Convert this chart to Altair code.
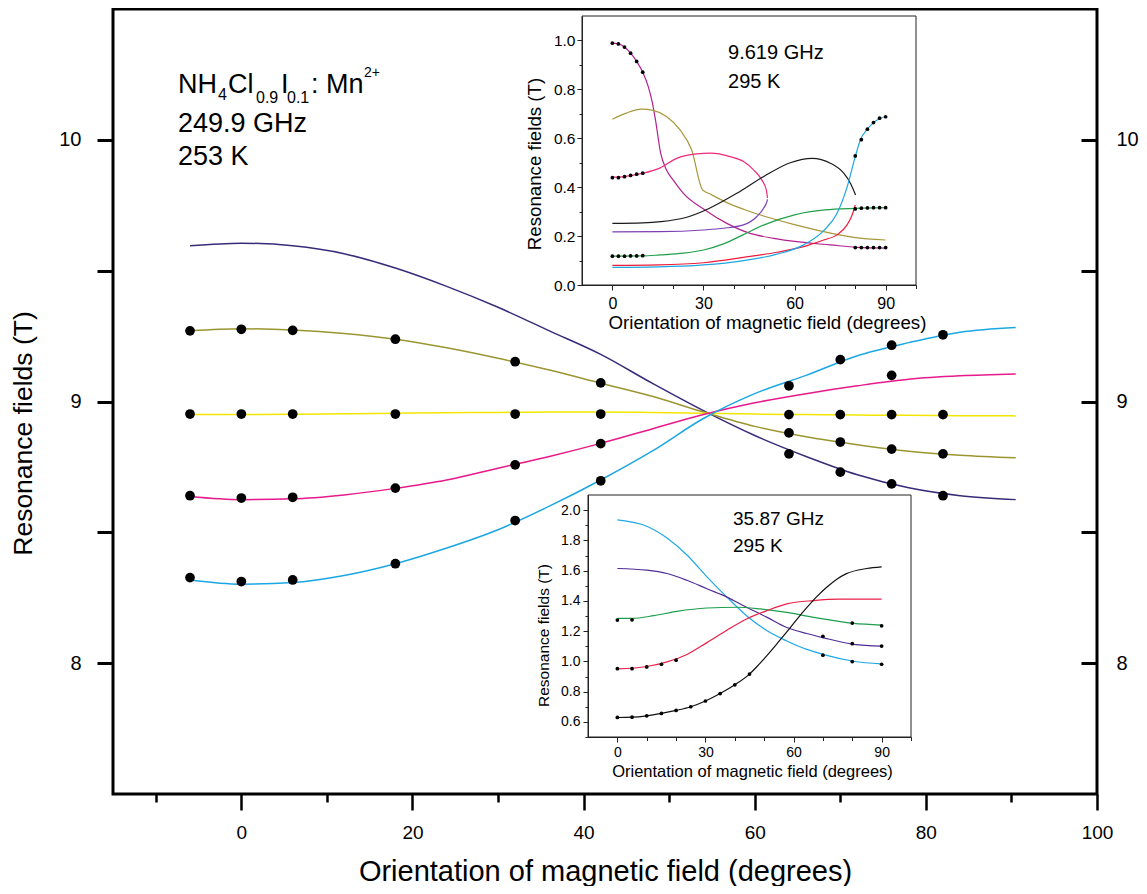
import altair as alt
import pandas as pd

FONT = "Liberation Sans"

# ---------------- main panel: 249.9 GHz, 253 K ----------------
MAIN_ANGLE = [-6, 0, 6, 12, 18, 24, 30, 36, 42, 48, 54, 60, 66, 72, 78, 84, 90.5]
MAIN_PURPLE = [9.595, 9.605, 9.595, 9.565, 9.51, 9.44, 9.36, 9.27, 9.18, 9.07, 8.965, 8.87, 8.79, 8.72, 8.67, 8.64, 8.625]
MAIN_OLIVE = [9.27, 9.278, 9.273, 9.26, 9.238, 9.205, 9.165, 9.12, 9.07, 9.02, 8.96, 8.905, 8.865, 8.835, 8.81, 8.795, 8.785]
MAIN_YELLOW = [8.95, 8.95, 8.951, 8.953, 8.955, 8.957, 8.958, 8.96, 8.96, 8.958, 8.955, 8.952, 8.95, 8.948, 8.947, 8.946, 8.945]
MAIN_MAGENTA = [8.637, 8.625, 8.628, 8.643, 8.668, 8.70, 8.745, 8.79, 8.84, 8.895, 8.95, 8.995, 9.03, 9.06, 9.085, 9.098, 9.105]
MAIN_CYAN = [8.318, 8.302, 8.308, 8.335, 8.38, 8.44, 8.51, 8.60, 8.70, 8.81, 8.935, 9.03, 9.10, 9.175, 9.225, 9.265, 9.283]

PT_OLIVE_X = [-6, 0, 6, 18, 32, 42, 64, 70, 76, 82]
PT_OLIVE_Y = [9.27, 9.276, 9.272, 9.238, 9.152, 9.071, 8.88, 8.845, 8.818, 8.80]
PT_YELLOW_X = [-6, 0, 6, 18, 32, 42, 64, 70, 76, 82]
PT_YELLOW_Y = [8.952, 8.952, 8.952, 8.952, 8.952, 8.952, 8.95, 8.95, 8.95, 8.95]
PT_MAGENTA_X = [-6, 0, 6, 18, 32, 42, 76]
PT_MAGENTA_Y = [8.64, 8.631, 8.634, 8.669, 8.758, 8.839, 9.10]
PT_CYAN_X = [-6, 0, 6, 18, 32, 42, 64, 70, 76, 82]
PT_CYAN_Y = [8.327, 8.312, 8.318, 8.38, 8.545, 8.697, 9.06, 9.16, 9.215, 9.255]
PT_PURPLE_X = [64, 70, 76, 82]
PT_PURPLE_Y = [8.80, 8.73, 8.685, 8.64]

MAIN_SERIES = ["purple", "olive", "yellow", "magenta", "cyan"]
MAIN_COLORS = ["#3a2a7a", "#9b9530", "#f2e600", "#e8198b", "#1ba7e3"]

# ---------------- inset 1: 9.619 GHz, 295 K ----------------
I1_MAG_X = [0, 2, 4, 6, 8, 10, 11.8, 13.2, 14.2, 15.9, 17.8, 20, 23.4, 30.5, 37.7, 45.4, 53.1, 60.8, 71.8, 80.6, 90]
I1_MAG_Y = [0.989, 0.986, 0.973, 0.948, 0.914, 0.87, 0.812, 0.744, 0.675, 0.539, 0.471, 0.43, 0.375, 0.307, 0.252, 0.211, 0.191, 0.177, 0.164, 0.154, 0.151]
I1_OLIVE_X = [0, 4.6, 9.6, 13.4, 17.8, 22.3, 26.1, 29.7, 32.2, 37.7, 43.2, 49.8, 59.7, 69.6, 79.5, 90]
I1_OLIVE_Y = [0.678, 0.703, 0.719, 0.714, 0.689, 0.634, 0.553, 0.389, 0.372, 0.337, 0.31, 0.282, 0.248, 0.218, 0.195, 0.184]
I1_PINK_X = [0, 2, 4, 6, 8, 10, 15.6, 21.2, 27.8, 32.2, 38.8, 43.2, 46.5, 49.2, 50.7, 51.1]
I1_PINK_Y = [0.441, 0.441, 0.443, 0.447, 0.452, 0.457, 0.478, 0.518, 0.536, 0.539, 0.525, 0.505, 0.471, 0.43, 0.389, 0.355]
I1_VIOLET_X = [0, 15.6, 30, 36.6, 43.2, 47.6, 49.8, 50.9, 51.1]
I1_VIOLET_Y = [0.217, 0.218, 0.225, 0.232, 0.246, 0.28, 0.314, 0.341, 0.35]
I1_BLACK_X = [0, 10, 16, 24.5, 32, 41, 50, 58.6, 65.8, 71.8, 76.2, 78.4, 80.1]
I1_BLACK_Y = [0.252, 0.254, 0.259, 0.277, 0.314, 0.375, 0.445, 0.5, 0.518, 0.498, 0.457, 0.416, 0.368]
I1_GREEN_X = [0, 10, 15.6, 23.4, 30, 36.6, 43, 50, 60, 70, 80, 90]
I1_GREEN_Y = [0.118, 0.119, 0.123, 0.13, 0.143, 0.168, 0.205, 0.246, 0.287, 0.307, 0.313, 0.316]
I1_RED_X = [0, 15, 30, 43.2, 54.2, 63, 69.6, 74, 77.3, 79, 80]
I1_RED_Y = [0.080, 0.082, 0.091, 0.113, 0.134, 0.157, 0.184, 0.205, 0.246, 0.287, 0.327]
I1_CYAN_X = [0, 15, 30, 43.2, 54.2, 63, 69.6, 74, 77.3, 80, 81.7, 84, 86, 88.3, 90]
I1_CYAN_Y = [0.072, 0.074, 0.082, 0.10, 0.126, 0.164, 0.222, 0.293, 0.40, 0.525, 0.594, 0.637, 0.664, 0.682, 0.689]

I1_PT_LOW_X = [0, 2, 4, 6, 8, 10]
I1_PT_HIGH_X = [80, 82, 84, 86, 88, 90]
I1_PT_MAG_LOW = [0.989, 0.986, 0.973, 0.948, 0.914, 0.87]
I1_PT_MAG_HIGH = [0.153, 0.153, 0.153, 0.153, 0.153, 0.153]
I1_PT_PINK_LOW = [0.439, 0.439, 0.443, 0.448, 0.453, 0.457]
I1_PT_GREEN_LOW = [0.118, 0.118, 0.118, 0.119, 0.119, 0.12]
I1_PT_GREEN_HIGH = [0.311, 0.314, 0.315, 0.316, 0.316, 0.316]
I1_PT_CYAN_HIGH = [0.528, 0.594, 0.637, 0.664, 0.682, 0.688]

I1_SERIES = ["mag", "olive", "pink", "violet", "black", "green", "red", "cyan"]
I1_COLORS = ["#b3208e", "#a8983a", "#ee2a7b", "#7b3fb5", "#1a1a1a", "#21a04a", "#ee1c3a", "#1ea6e2"]

# ---------------- inset 2: 35.87 GHz, 295 K ----------------
I2_CYAN_X = [0, 10, 16.9, 23.7, 30.5, 37.3, 44, 51, 57.7, 64.5, 70, 80.4, 90]
I2_CYAN_Y = [1.935, 1.893, 1.815, 1.703, 1.559, 1.425, 1.302, 1.202, 1.135, 1.079, 1.046, 1.001, 0.983]
I2_PURPLE_X = [0, 10, 16.9, 23.7, 30.5, 37.3, 44, 51, 57.7, 64.5, 70, 80.4, 90]
I2_PURPLE_Y = [1.614, 1.603, 1.581, 1.536, 1.48, 1.425, 1.358, 1.291, 1.224, 1.184, 1.157, 1.113, 1.101]
I2_GREEN_X = [0, 5, 12.4, 20.3, 30.5, 40.7, 48.6, 57.7, 66.8, 80.4, 90]
I2_GREEN_Y = [1.284, 1.284, 1.302, 1.331, 1.353, 1.358, 1.347, 1.324, 1.291, 1.251, 1.24]
I2_RED_X = [0, 10, 16.9, 23.7, 30.5, 37.3, 44, 51, 57.7, 66.8, 75.8, 90]
I2_RED_Y = [0.95, 0.966, 0.997, 1.046, 1.124, 1.206, 1.28, 1.336, 1.38, 1.402, 1.411, 1.411]
I2_BLACK_X = [0, 5, 10, 15, 20, 25, 30, 35, 40, 45, 48, 51, 54.5, 57.7, 61, 64.5, 68, 71.3, 74.5, 78, 84.9, 90]
I2_BLACK_Y = [0.629, 0.631, 0.64, 0.656, 0.676, 0.70, 0.738, 0.787, 0.845, 0.916, 0.975, 1.04, 1.12, 1.195, 1.275, 1.355, 1.43, 1.49, 1.54, 1.58, 1.614, 1.625]

I2_PT_CYAN_X = [70, 80, 90]
I2_PT_CYAN_Y = [1.041, 0.999, 0.981]
I2_PT_PURPLE_X = [70, 80, 90]
I2_PT_PURPLE_Y = [1.166, 1.117, 1.101]
I2_PT_GREEN_X = [0, 5, 80, 90]
I2_PT_GREEN_Y = [1.273, 1.275, 1.253, 1.235]
I2_PT_RED_X = [0, 5, 10, 15, 20]
I2_PT_RED_Y = [0.952, 0.952, 0.963, 0.981, 1.008]
I2_PT_BLACK_X = [0, 5, 10, 15, 20, 25, 30, 35, 40, 45]
I2_PT_BLACK_Y = [0.629, 0.631, 0.64, 0.656, 0.676, 0.70, 0.738, 0.787, 0.845, 0.916]

I2_SERIES = ["cyan", "purple", "green", "red", "black"]
I2_COLORS = ["#1fa8e6", "#4f2d96", "#1e9e4c", "#ec1f48", "#111111"]

# domains and ticks
MAIN_XDOM = [-15, 100]
MAIN_YDOM = [7.5, 10.5]
MAIN_X_MAJOR = [0, 20, 40, 60, 80, 100]
MAIN_X_MINOR = [-10, 10, 30, 50, 70, 90]
MAIN_Y_TICKS = [8, 8.5, 9, 9.5, 10]
I1_XDOM = [-10, 100]
I1_YDOM = [0, 1.1]
I1_Y_MAJOR = [0.0, 0.2, 0.4, 0.6, 0.8, 1.0]
I1_Y_MINOR = [0.1, 0.3, 0.5, 0.7, 0.9]
I2_XDOM = [-10, 100]
I2_YDOM = [0.5, 2.1]
I2_Y_MAJOR = [0.6, 0.8, 1.0, 1.2, 1.4, 1.6, 1.8, 2.0]
I2_Y_MINOR = [0.5, 0.7, 0.9, 1.1, 1.3, 1.5, 1.7, 1.9]
INSET_X_MAJOR = [0, 30, 60, 90]
INSET_X_MINOR = [10, 20, 40, 50, 70, 80, 100]

XTITLE = "Orientation of magnetic field (degrees)"
YTITLE = "Resonance fields (T)"


# ---------------- helpers ----------------
def lines_frame(items):
    rows = []
    for name, xs, ys in items:
        for i, (a, b) in enumerate(zip(xs, ys)):
            rows.append({"series": name, "x": a, "y": b, "order": i})
    return pd.DataFrame(rows)


def points_frame(items):
    rows = []
    for xs, ys in items:
        for a, b in zip(xs, ys):
            rows.append({"x": a, "y": b})
    return pd.DataFrame(rows)


def mk_scale(dom, rng=None):
    if rng is None:
        return alt.Scale(domain=dom, nice=False, zero=False)
    return alt.Scale(domain=dom, range=rng, nice=False, zero=False)


def text_layer(df_x, df_y, txt, xs, ys, size, dx=0, dy=0):
    d = pd.DataFrame({"x": [df_x], "y": [df_y], "t": [txt]})
    return alt.Chart(d).mark_text(
        align="left", baseline="alphabetic", font=FONT, fontSize=size,
        color="black", dx=dx, dy=dy
    ).encode(
        x=alt.X("x:Q", scale=xs, axis=None),
        y=alt.Y("y:Q", scale=ys, axis=None),
        text="t:N",
    )


def x_carrier(dom, rng, axis):
    return alt.Chart(pd.DataFrame({"v": dom})).mark_point(opacity=0).encode(
        x=alt.X("v:Q", scale=mk_scale(dom, rng), axis=axis)
    )


def y_carrier(dom, rng, axis):
    return alt.Chart(pd.DataFrame({"v": dom})).mark_point(opacity=0).encode(
        y=alt.Y("v:Q", scale=mk_scale(dom, rng), axis=axis)
    )


W, H = 984, 785

# ---------------- main marks ----------------
xs_main = mk_scale(MAIN_XDOM)
ys_main = mk_scale(MAIN_YDOM)

main_lines_df = lines_frame([
    ("purple", MAIN_ANGLE, MAIN_PURPLE),
    ("olive", MAIN_ANGLE, MAIN_OLIVE),
    ("yellow", MAIN_ANGLE, MAIN_YELLOW),
    ("magenta", MAIN_ANGLE, MAIN_MAGENTA),
    ("cyan", MAIN_ANGLE, MAIN_CYAN),
])
main_pts_df = points_frame([
    (PT_OLIVE_X, PT_OLIVE_Y), (PT_YELLOW_X, PT_YELLOW_Y), (PT_MAGENTA_X, PT_MAGENTA_Y),
    (PT_CYAN_X, PT_CYAN_Y), (PT_PURPLE_X, PT_PURPLE_Y),
])

main_lines = alt.Chart(main_lines_df).mark_line(strokeWidth=1.5, interpolate="monotone").encode(
    x=alt.X("x:Q", scale=xs_main, axis=None),
    y=alt.Y("y:Q", scale=ys_main, axis=None),
    color=alt.Color("series:N", scale=alt.Scale(domain=MAIN_SERIES, range=MAIN_COLORS), legend=None),
    order="order:Q",
)
main_pts = alt.Chart(main_pts_df).mark_circle(size=95, color="black", opacity=1).encode(
    x=alt.X("x:Q", scale=xs_main, axis=None),
    y=alt.Y("y:Q", scale=ys_main, axis=None),
)

FORMULA_X = -7.4
FORMULA_Y = [10.179, 10.03, 9.904]
formula = [
    text_layer(FORMULA_X, FORMULA_Y[0], "NH", xs_main, ys_main, 27, dx=0),
    text_layer(FORMULA_X, FORMULA_Y[0], "4", xs_main, ys_main, 16, dx=40, dy=7),
    text_layer(FORMULA_X, FORMULA_Y[0], "Cl", xs_main, ys_main, 27, dx=50),
    text_layer(FORMULA_X, FORMULA_Y[0], "0.9", xs_main, ys_main, 16, dx=78, dy=10),
    text_layer(FORMULA_X, FORMULA_Y[0], "I", xs_main, ys_main, 27, dx=103),
    text_layer(FORMULA_X, FORMULA_Y[0], "0.1", xs_main, ys_main, 16, dx=109, dy=10),
    text_layer(FORMULA_X, FORMULA_Y[0], ": Mn", xs_main, ys_main, 27, dx=133),
    text_layer(FORMULA_X, FORMULA_Y[0], "2+", xs_main, ys_main, 14, dx=186, dy=-16),
    text_layer(FORMULA_X, FORMULA_Y[1], "249.9 GHz", xs_main, ys_main, 27),
    text_layer(FORMULA_X, FORMULA_Y[2], "253 K", xs_main, ys_main, 27),
]
main_group = alt.layer(main_lines, main_pts, *formula)

# ---------------- main axes ----------------
common_main = dict(tickColor="black", domain=False, grid=False, labelFont=FONT,
                   labelColor="black", labelFlush=False, labelOverlap=False)

ax_bottom_major = alt.Axis(
    orient="bottom", values=MAIN_X_MAJOR, format="d", tickSize=16, tickWidth=2.5,
    labelFontSize=19, labelPadding=13,
    title=XTITLE, titleFont=FONT, titleFontSize=29, titleFontWeight="normal",
    titleColor="black", titleX=492, titleY=86, titleBaseline="alphabetic", titleAlign="center",
    **common_main,
)
ax_bottom_minor = alt.Axis(
    orient="bottom", values=MAIN_X_MINOR, tickSize=8, tickWidth=2.5, labels=False, title=None,
    **common_main,
)
ax_left = alt.Axis(
    orient="left", values=MAIN_Y_TICKS,
    labelExpr="datum.value % 1 === 0 ? format(datum.value, 'd') : ''",
    tickSize=16, tickWidth=3, labelFontSize=20, labelPadding=16,
    title=YTITLE, titleFont=FONT, titleFontSize=26.5, titleFontWeight="normal",
    titleColor="black", titleX=-82, titleY=424, titleBaseline="alphabetic",
    titleAlign="center", titleAngle=270,
    **common_main,
)
ax_right = alt.Axis(
    orient="right", offset=-16, values=MAIN_Y_TICKS,
    labelExpr="datum.value % 1 === 0 ? format(datum.value, 'd') : ''",
    tickSize=16, tickWidth=3, labelFontSize=20, labelPadding=19, title=None,
    **common_main,
)

main_axes = [
    x_carrier(MAIN_XDOM, None, ax_bottom_major),
    x_carrier(MAIN_XDOM, None, ax_bottom_minor),
    y_carrier(MAIN_YDOM, None, ax_left),
    y_carrier(MAIN_YDOM, None, ax_right),
]


# ---------------- insets ----------------
def inset_axes(xdom, ydom, xrng, yrng, x_off, y_off, xlab, ylab, ymaj, ymin, xtitle, ytitle):
    common = dict(tickWidth=1, tickColor="#222", domainColor="#222", domainWidth=1,
                  grid=False, labelFont=FONT, labelColor="black", labelFlush=False,
                  labelOverlap=False, zindex=2)
    x_major = alt.Axis(
        orient="bottom", offset=y_off, values=INSET_X_MAJOR, format="d", tickSize=5,
        labelFontSize=xlab[0], labelPadding=xlab[1],
        title=XTITLE, titleFont=FONT, titleFontSize=xtitle[0], titleFontWeight="normal",
        titleColor="black", titleX=xtitle[1], titleY=xtitle[2],
        titleBaseline="alphabetic", titleAlign="center", **common,
    )
    x_minor = alt.Axis(
        orient="bottom", offset=y_off, values=INSET_X_MINOR, tickSize=3.5,
        labels=False, title=None, **common,
    )
    y_major = alt.Axis(
        orient="left", offset=x_off, values=ymaj, format=".1f", tickSize=5,
        labelFontSize=ylab[0], labelPadding=ylab[1],
        title=YTITLE, titleFont=FONT, titleFontSize=ytitle[0], titleFontWeight="normal",
        titleColor="black", titleX=ytitle[1], titleY=ytitle[2],
        titleBaseline="alphabetic", titleAlign="center", titleAngle=270, **common,
    )
    y_minor = alt.Axis(
        orient="left", offset=x_off, values=ymin, tickSize=3,
        labels=False, title=None, **common,
    )
    return [
        x_carrier(xdom, xrng, x_major),
        x_carrier(xdom, xrng, x_minor),
        y_carrier(ydom, yrng, y_major),
        y_carrier(ydom, yrng, y_minor),
    ]


def inset_group(xdom, ydom, xrange, yrange, line_items, names, colors, pts, texts, tsize):
    xs = mk_scale(xdom, xrange)
    ys = mk_scale(ydom, yrange)
    box_df = pd.DataFrame({"x0": [xdom[0]], "x1": [xdom[1]], "y0": [ydom[0]], "y1": [ydom[1]]})
    box = alt.Chart(box_df).mark_rect(fill="white", stroke="#222", strokeWidth=1).encode(
        x=alt.X("x0:Q", scale=xs, axis=None),
        x2="x1:Q",
        y=alt.Y("y0:Q", scale=ys, axis=None),
        y2="y1:Q",
    )
    lines = alt.Chart(lines_frame(line_items)).mark_line(strokeWidth=1.2, interpolate="monotone").encode(
        x=alt.X("x:Q", scale=xs, axis=None),
        y=alt.Y("y:Q", scale=ys, axis=None),
        color=alt.Color("series:N", scale=alt.Scale(domain=names, range=colors), legend=None),
        order="order:Q",
    )
    points = alt.Chart(points_frame(pts)).mark_circle(size=14, color="black", opacity=1).encode(
        x=alt.X("x:Q", scale=xs, axis=None),
        y=alt.Y("y:Q", scale=ys, axis=None),
    )
    tl = [text_layer(tx, ty, t, xs, ys, tsize) for (tx, ty, t) in texts]
    return alt.layer(box, lines, points, *tl)


I1_XR, I1_YR = [469, 803], [276, 7]
I2_XR, I2_YR = [475, 798], [728, 486]

inset1 = inset_group(
    I1_XDOM, I1_YDOM, I1_XR, I1_YR,
    [("mag", I1_MAG_X, I1_MAG_Y), ("olive", I1_OLIVE_X, I1_OLIVE_Y),
     ("pink", I1_PINK_X, I1_PINK_Y), ("violet", I1_VIOLET_X, I1_VIOLET_Y),
     ("black", I1_BLACK_X, I1_BLACK_Y), ("green", I1_GREEN_X, I1_GREEN_Y),
     ("red", I1_RED_X, I1_RED_Y), ("cyan", I1_CYAN_X, I1_CYAN_Y)],
    I1_SERIES, I1_COLORS,
    [(I1_PT_LOW_X, I1_PT_MAG_LOW), (I1_PT_HIGH_X, I1_PT_MAG_HIGH),
     (I1_PT_LOW_X, I1_PT_PINK_LOW), (I1_PT_LOW_X, I1_PT_GREEN_LOW),
     (I1_PT_HIGH_X, I1_PT_GREEN_HIGH), (I1_PT_HIGH_X, I1_PT_CYAN_HIGH)],
    [(38.1, 0.924, "9.619 GHz"), (38.1, 0.806, "295 K")], 20,
)
inset1_axes = inset_axes(
    I1_XDOM, I1_YDOM, I1_XR, I1_YR, -469, -509,
    (16, 5), (15.5, 2), I1_Y_MAJOR, I1_Y_MINOR,
    (18.7, 654, 43), (18.7, -42, 154.5),
)

inset2 = inset_group(
    I2_XDOM, I2_YDOM, I2_XR, I2_YR,
    [("cyan", I2_CYAN_X, I2_CYAN_Y), ("purple", I2_PURPLE_X, I2_PURPLE_Y),
     ("green", I2_GREEN_X, I2_GREEN_Y), ("red", I2_RED_X, I2_RED_Y),
     ("black", I2_BLACK_X, I2_BLACK_Y)],
    I2_SERIES, I2_COLORS,
    [(I2_PT_CYAN_X, I2_PT_CYAN_Y), (I2_PT_PURPLE_X, I2_PT_PURPLE_Y),
     (I2_PT_GREEN_X, I2_PT_GREEN_Y), (I2_PT_RED_X, I2_PT_RED_Y),
     (I2_PT_BLACK_X, I2_PT_BLACK_Y)],
    [(39.4, 1.90, "35.87 GHz"), (39.4, 1.725, "295 K")], 19,
)
inset2_axes = inset_axes(
    I2_XDOM, I2_YDOM, I2_XR, I2_YR, -475, -57,
    (14, 3), (14, 3), I2_Y_MAJOR, I2_Y_MINOR,
    (16.5, 639, 39), (15.5, -40, 626),
)

chart = alt.layer(
    main_group, *main_axes, inset1, inset2, *inset1_axes, *inset2_axes
).resolve_scale(
    x="independent", y="independent", color="independent"
).properties(
    width=W, height=H,
    padding={"left": 105, "top": 1, "right": 42, "bottom": 92},
    autosize=alt.AutoSizeParams(type="none"),
    background="white",
).configure_view(stroke="black", strokeWidth=3)

chart.save("out.html", embed_options={"renderer": "svg", "actions": False})
